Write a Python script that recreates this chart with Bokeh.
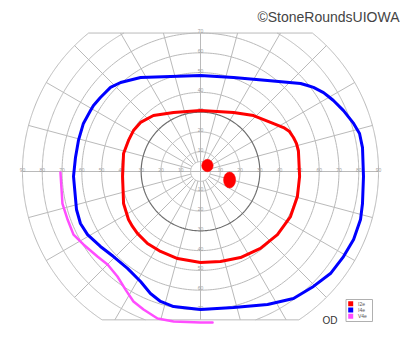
import numpy as np
from bokeh.plotting import figure
from bokeh.models import Range1d
from bokeh.core.properties import value
from bokeh.embed import file_html
from bokeh.resources import INLINE

# ---------------- data (degrees of visual field) ----------------
i2e_x = [0, 16.7, 26.8, 35.4, 42.0, 45.0, 47.0, 48.5, 49.5, 50.1, 49.0, 45.5, 38.9, 30.3, 20.2, 10.1, 0,
         -11.6, -20.2, -26.8, -31.9, -34.4, -36.4, -38.9, -39.4, -38.9, -36.4, -33.9, -30.3, -23.8, -13.6]
i2e_y = [30.8, 29.8, 28.3, 24.8, 22.2, 20.2, 17.2, 14.2, 10.6, -2.5, -12.6, -22.8, -31.9, -38.9, -43.5, -45.5, -46.0,
         -44.0, -40.4, -36.4, -31.3, -27.8, -24.3, -16.2, -2.5, 9.1, 15.7, 20.7, 24.8, 28.3, 29.8]

i4e_x = [0, 16.7, 33.9, 50.6, 54.1, 57.1, 62.2, 64.7, 67.2, 72.3, 77.4, 80.4, 81.9, 82.4, 81.9, 80.9, 77.4,
         72.3, 65.7, 57.1, 47.0, 33.9, 16.7, 0, -13.6, -20.2, -25.3, -30.3, -36.9, -44.0, -50.6,
         -57.1, -60.7, -62.7, -64.2, -63.2, -61.7, -59.2, -55.6, -54.1, -50.6, -45.5, -40.4, -30.3]
i4e_y = [48.5, 47.5, 46.0, 44.5, 43.5, 42.5, 39.9, 37.9, 35.9, 30.8, 24.3, 19.2, 12.1, -2.5, -16.2, -24.3, -34.4,
         -43.0, -51.6, -58.1, -64.2, -67.2, -68.8, -69.8, -68.3, -65.7, -61.7, -55.6, -49.0, -43.0, -37.9,
         -31.9, -26.3, -19.2, -2.5, 7.1, 15.7, 24.3, 30.8, 33.4, 37.4, 42.5, 45.0, 47.5]

v4e_x = [-70.8, -69.8, -67.2, -64.2, -59.2, -52.1, -47.0, -42.0, -37.9, -33.9, -28.8, -21.7, -13.6, 0, 6.1]
v4e_y = [-0.5, -16.2, -24.3, -31.9, -36.9, -43.0, -47.0, -53.1, -59.7, -65.7, -69.8, -74.3, -75.8, -76.3, -76.3]

blind_x = [3.5, 14.7]
blind_y = [3.0, -4.3]
blind_w = [5.8, 6.1]
blind_h = [6.3, 8.1]

ring_radii = [5, 10, 20, 30, 40, 50, 60, 70, 80, 90]
meridians = list(range(0, 360, 15))
h_tick_values = [10, 20, 30, 40, 50, 60, 70, 80, 90]
v_tick_values = [10, 20, 30, 40, 50, 60, 70]
legend_labels = ["I2e", "I4e", "V4e"]
legend_colors = ["#ff0000", "#0000ff", "#ff4dff"]
eye_label = "OD"
credit = "\u00a9StoneRoundsUIOWA"

# ---------------- layout ----------------
W, H = 400, 352
S = 1.978          # px per degree
CX, CY = 200, 171  # centre in px
TOP, BOT = 70, 75  # clipping of the grid (deg)
RMAX = 90

def X(px):
    return (px - CX) / S

def Y(py):
    return (CY - py) / S

p = figure(width=W, height=H, output_backend="svg", toolbar_location=None,
           x_range=Range1d(X(0), X(W)), y_range=Range1d(Y(H), Y(0)),
           min_border=0, outline_line_color=None, background_fill_color="white",
           border_fill_color="white")
p.axis.visible = False
p.grid.visible = False

GRID = "#bababa"
FONT = value("Liberation Sans")

# rings
xs, ys = [], []
dark_x, dark_y = [], []
for r in ring_radii:
    segs = []
    if r <= TOP:
        segs.append((0, 2 * np.pi))
    else:
        a1 = np.arcsin(TOP / r)
        a2 = np.pi - a1
        if r <= BOT:
            segs.append((a2, a1 + 2 * np.pi))
        else:
            b = np.arcsin(BOT / r)
            segs.append((-b, a1))
            segs.append((a2, np.pi + b))
    for s0, s1 in segs:
        t = np.linspace(s0, s1, 300)
        if r == 30:
            dark_x.append(list(r * np.cos(t))); dark_y.append(list(r * np.sin(t)))
        else:
            xs.append(list(r * np.cos(t))); ys.append(list(r * np.sin(t)))

# meridians
for m in meridians:
    th = np.radians(m)
    s = np.sin(th)
    r_end = RMAX
    if s > 1e-9:
        r_end = min(RMAX, TOP / s)
    elif s < -1e-9:
        r_end = min(RMAX, BOT / -s)
    r0 = 0 if m % 90 == 0 else ring_radii[0]
    xs.append([r0 * np.cos(th), r_end * np.cos(th)])
    ys.append([r0 * np.sin(th), r_end * np.sin(th)])

# clip lines
for yy in (TOP, -BOT):
    hw = np.sqrt(RMAX ** 2 - yy ** 2)
    xs.append([-hw, hw]); ys.append([yy, yy])

p.multi_line(xs, ys, line_color=GRID, line_width=1)
p.multi_line(dark_x, dark_y, line_color="#6e6e6e", line_width=1.2)

# tick labels
tx = [v for v in h_tick_values] + [-v for v in h_tick_values]
ty = [1.0] * len(tx)
tt = [str(v) for v in h_tick_values] * 2
tx += [0] * (2 * len(v_tick_values))
ty += [v + 1.0 for v in v_tick_values] + [-v + 1.0 for v in v_tick_values]
tt += [str(v) for v in v_tick_values] * 2
p.text(tx, ty, text=tt, text_font=FONT, text_font_size="5px", text_color="#a0a0a0",
       text_align="center", text_baseline="middle")

# isopters
p.line(i4e_x + i4e_x[:1], i4e_y + i4e_y[:1], line_color=legend_colors[1], line_width=3, line_join="round")
p.line(i2e_x + i2e_x[:1], i2e_y + i2e_y[:1], line_color=legend_colors[0], line_width=3, line_join="round")
p.line(v4e_x, v4e_y, line_color=legend_colors[2], line_width=2.5, line_join="round", line_cap="round")

# blind spot
p.ellipse(blind_x, blind_y, width=blind_w, height=blind_h, fill_color=legend_colors[0],
          line_color=legend_colors[0], line_width=0.5)

# legend box
p.quad(left=[X(345.5)], right=[X(372)], top=[Y(299)], bottom=[Y(321)],
       fill_color="white", line_color="#b0b0b0", line_width=1)
sw_top = [Y(300.7), Y(307), Y(313.3)]
sw_bot = [Y(305.7), Y(312), Y(318.3)]
p.quad(left=[X(347.7)] * 3, right=[X(352.7)] * 3, top=sw_top, bottom=sw_bot,
       fill_color=legend_colors, line_color=None)
p.text([X(357.5)] * 3, [(a + b) / 2 for a, b in zip(sw_top, sw_bot)], text=legend_labels,
       text_font=FONT, text_font_size="5px", text_color="#555555", text_baseline="middle")

# eye label
p.text([X(322)], [Y(319.5)], text=[eye_label], text_font=FONT, text_font_size="10px",
       text_color="#333333", text_baseline="alphabetic")

# credit
p.text([X(399)], [Y(16.7)], text=[credit], text_font=FONT, text_font_size="14px",
       text_color="#444444", text_align="right", text_baseline="alphabetic")

open("out.html", "w").write(file_html(p, INLINE))
